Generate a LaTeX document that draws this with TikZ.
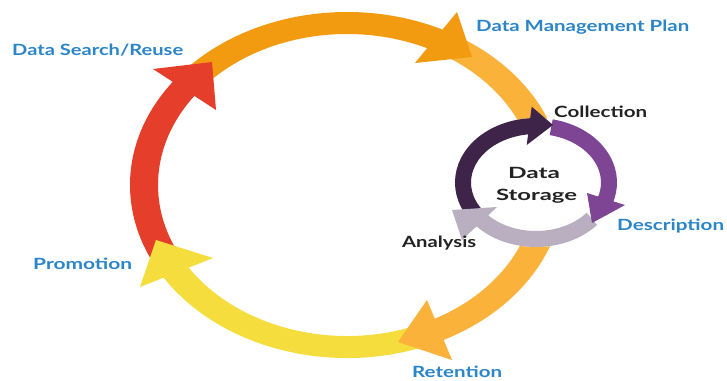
\documentclass[tikz,border=0pt]{standalone}
\usepackage{fontspec}
\setmainfont{Lato}
\usepackage{graphicx}
\definecolor{cred}{HTML}{E53E2A}
\definecolor{corange}{HTML}{F39B10}
\definecolor{clorange}{HTML}{FAB23A}
\definecolor{cyellow}{HTML}{F4DD3C}
\definecolor{cdpurple}{HTML}{3F2449}
\definecolor{cpurple}{HTML}{7E4594}
\definecolor{cgray}{HTML}{B9AFC1}
\definecolor{cblue}{HTML}{2B85C6}
\definecolor{cblack}{HTML}{222222}
\tikzset{
  smallring/.style={line width=16pt},
  bluelbl/.style={inner sep=0pt, anchor=base west, text=cblue, font=\bfseries\fontsize{15.5}{16}\selectfont},
  blacklbl/.style={inner sep=0pt, anchor=base west, text=cblack, font=\bfseries\fontsize{15.5}{16}\selectfont},
  centerlbl/.style={inner sep=0pt, anchor=base, text=cblack, font=\bfseries\fontsize{15.5}{16}\selectfont}
}
% big ring segment: filled band between two ellipses (outer 217x173, inner 189x151)
\newcommand\bigseg[3]{\fill[#1] ({347+217*cos(#2)},{-185+173*sin(#2)}) arc[start angle=#2,end angle=#3,x radius=217,y radius=173] -- ({347+189*cos(#3)},{-185+151*sin(#3)}) arc[start angle=#3,end angle=#2,x radius=189,y radius=151] -- cycle;}
\newcommand\smallarc[3]{\draw[smallring,#1] ({536+73*cos(#2)},{-182.5+56.5*sin(#2)}) arc[start angle=#2,end angle=#3,x radius=73,y radius=56.5];}
\begin{document}
\begin{tikzpicture}[x=1pt,y=1pt]
\useasboundingbox[fill=white] (0,0) rectangle (727,-380);
% big cycle bodies
\bigseg{cred}{207}{140}
\bigseg{corange}{138}{58}
\bigseg{clorange}{57}{-65}
\bigseg{cyellow}{-68}{-153}
% big cycle heads
\fill[cred] (153,-69) -- (212,-62) -- (216,-110) -- cycle;
\fill[corange] (457,-12) -- (472,-57) -- (415,-63) -- cycle;
\fill[clorange] (427,-300) -- (398,-342) -- (452,-360) -- cycle;
\fill[cyellow] (213,-258) -- (156,-240) -- (140,-287) -- cycle;
% small cycle: white disc hides the big ring behind it
\fill[white] (536,-182.5) ellipse[x radius=81, y radius=64.5];
\smallarc{cdpurple}{214}{90}
\smallarc{cpurple}{78}{-25}
\smallarc{cgray}{-40}{-145}
% small cycle heads
\fill[cdpurple] (531.7,-106.7) -- (553,-125) -- (526.7,-145) -- cycle;
\fill[cpurple] (587,-193) -- (625,-205) -- (592,-223) -- cycle;
\fill[cgray] (497,-207) -- (452,-210) -- (462,-240) -- cycle;
% labels
\node[bluelbl] (search) at (12,-55) {\resizebox{171pt}{\height}{Data Search/Reuse}};
\node[bluelbl] (dmp) at (476,-31) {\resizebox{213pt}{\height}{Data Management Plan}};
\node[blacklbl] (coll) at (554,-117) {\resizebox{93pt}{\height}{Collection}};
\node[bluelbl] (desc) at (617,-230) {\resizebox{107pt}{\height}{Description}};
\node[blacklbl] (anal) at (402,-247) {\resizebox{74pt}{\height}{Analysis}};
\node[bluelbl] (ret) at (412,-377) {\resizebox{90pt}{\height}{Retention}};
\node[bluelbl] (prom) at (33,-269) {\resizebox{99pt}{\height}{Promotion}};
\node[centerlbl] (data) at (534,-178.3) {\resizebox{52pt}{\height}{Data}};
\node[centerlbl] (stor) at (536.5,-200) {\resizebox{81pt}{\height}{Storage}};
\end{tikzpicture}
\end{document}
